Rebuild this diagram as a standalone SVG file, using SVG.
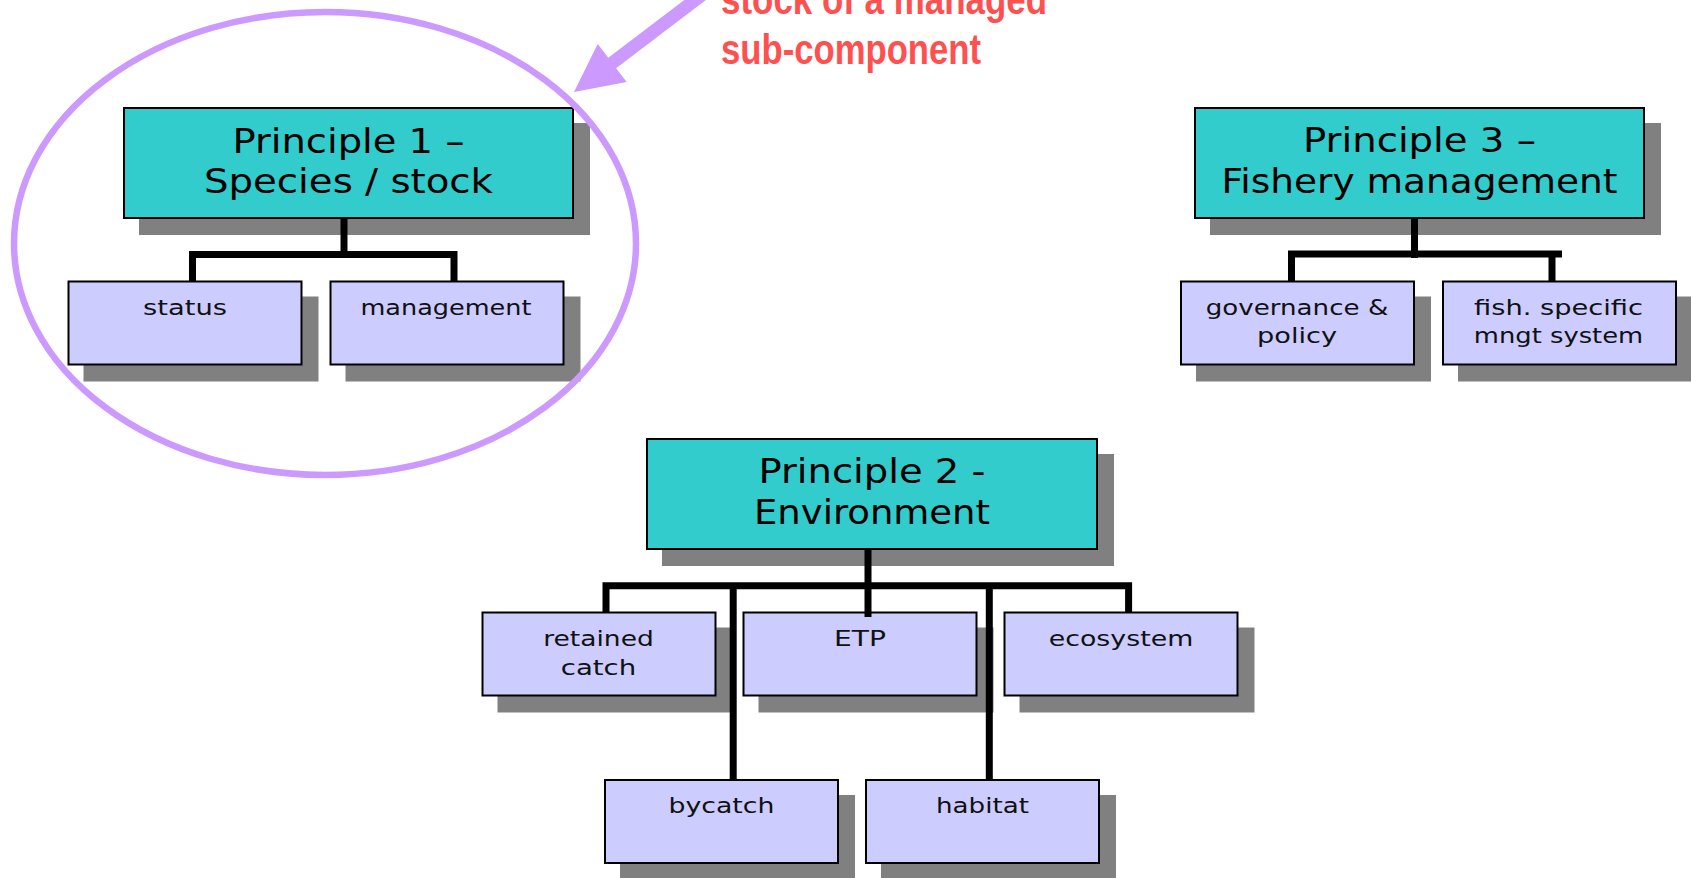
<svg xmlns="http://www.w3.org/2000/svg" width="1691" height="878" viewBox="0 0 1691 878">
<style>
.shadow{fill:#808080}
.big{fill:#33CCCC;stroke:#000;stroke-width:2}
.small{fill:#CCCCFF;stroke:#000;stroke-width:2}
.tb{font-family:"DejaVu Sans",Verdana,sans-serif;font-size:33px;fill:#000;text-anchor:middle}
.ts{font-family:"DejaVu Sans",Verdana,sans-serif;font-size:22px;fill:#111;text-anchor:middle}
.conn{fill:none;stroke:#000;stroke-width:7;stroke-linejoin:miter;stroke-linecap:butt}
.note{font-family:"Liberation Sans Narrow","Liberation Sans",Arial,sans-serif;font-weight:bold;font-size:42px;fill:#FF5050}
.mark{fill:#CC99FF}
</style>
<rect width="1691" height="878" fill="#fff"/>

<g id="p1">
<rect class="shadow" x="139" y="123" width="451" height="112"/>
<rect class="big" x="124" y="108" width="449" height="110"/>
<text class="tb" x="348.5" y="152.5" textLength="232" lengthAdjust="spacingAndGlyphs">Principle 1 –</text>
<text class="tb" x="348.5" y="193" textLength="289" lengthAdjust="spacingAndGlyphs">Species / stock</text>
</g>
<g id="status">
<rect class="shadow" x="83.5" y="296.5" width="235" height="85"/>
<rect class="small" x="68.5" y="281.5" width="233" height="83"/>
<text class="ts" x="185" y="315" textLength="84" lengthAdjust="spacingAndGlyphs">status</text>
</g>
<g id="management">
<rect class="shadow" x="345.5" y="296.5" width="235" height="85"/>
<rect class="small" x="330.5" y="281.5" width="233" height="83"/>
<text class="ts" x="446" y="315" textLength="171" lengthAdjust="spacingAndGlyphs">management</text>
</g>

<g id="p3">
<rect class="shadow" x="1210" y="123" width="451" height="112"/>
<rect class="big" x="1195" y="108" width="449" height="110"/>
<text class="tb" x="1419.5" y="152" textLength="233" lengthAdjust="spacingAndGlyphs">Principle 3 –</text>
<text class="tb" x="1419.5" y="193" textLength="396" lengthAdjust="spacingAndGlyphs">Fishery management</text>
</g>
<g id="governance">
<rect class="shadow" x="1196" y="296.5" width="235" height="85"/>
<rect class="small" x="1181" y="281.5" width="233" height="83"/>
<text class="ts" x="1297" y="314.5" textLength="182.5" lengthAdjust="spacingAndGlyphs">governance &amp;</text>
<text class="ts" x="1297" y="343" textLength="80" lengthAdjust="spacingAndGlyphs">policy</text>
</g>
<g id="fish-mngt">
<rect class="shadow" x="1458" y="296.5" width="235" height="85"/>
<rect class="small" x="1443" y="281.5" width="233" height="83"/>
<text class="ts" x="1558.5" y="314.5" textLength="169" lengthAdjust="spacingAndGlyphs">fish. specific</text>
<text class="ts" x="1558.5" y="343" textLength="169.5" lengthAdjust="spacingAndGlyphs">mngt system</text>
</g>

<g id="p2">
<rect class="shadow" x="662" y="454" width="452" height="112"/>
<rect class="big" x="647" y="439" width="450" height="110"/>
<text class="tb" x="872" y="483" textLength="227" lengthAdjust="spacingAndGlyphs">Principle 2 -</text>
<text class="tb" x="872" y="523.5" textLength="236" lengthAdjust="spacingAndGlyphs">Environment</text>
</g>
<g id="retained">
<rect class="shadow" x="497.5" y="627.5" width="235" height="85"/>
<rect class="small" x="482.5" y="612.5" width="233" height="83"/>
<text class="ts" x="598.5" y="645.5" textLength="110.5" lengthAdjust="spacingAndGlyphs">retained</text>
<text class="ts" x="598.5" y="674.5" textLength="75.5" lengthAdjust="spacingAndGlyphs">catch</text>
</g>
<g id="etp">
<rect class="shadow" x="758.5" y="627.5" width="235" height="85"/>
<rect class="small" x="743.5" y="612.5" width="233" height="83"/>
<text class="ts" x="860" y="645.5" textLength="52" lengthAdjust="spacingAndGlyphs">ETP</text>
</g>
<g id="ecosystem">
<rect class="shadow" x="1019.5" y="627.5" width="235" height="85"/>
<rect class="small" x="1004.5" y="612.5" width="233" height="83"/>
<text class="ts" x="1121" y="645.5" textLength="144.5" lengthAdjust="spacingAndGlyphs">ecosystem</text>
</g>
<g id="bycatch">
<rect class="shadow" x="620" y="795" width="235" height="85"/>
<rect class="small" x="605" y="780" width="233" height="83"/>
<text class="ts" x="721.5" y="812.5" textLength="106" lengthAdjust="spacingAndGlyphs">bycatch</text>
</g>
<g id="habitat">
<rect class="shadow" x="881" y="795" width="235" height="85"/>
<rect class="small" x="866" y="780" width="233" height="83"/>
<text class="ts" x="982.5" y="813" textLength="93" lengthAdjust="spacingAndGlyphs">habitat</text>
</g>

<g id="connectors" class="conn">
<path d="M344,218 V258"/>
<path d="M192.5,282 V254.5 H454 V282"/>
<path d="M1414.5,218 V258"/>
<path d="M1291.5,282 V254 H1552 V282 M1552,254 H1562"/>
<path d="M868,549 V617"/>
<path d="M606,612.5 V585.8 H1128.6 V612.5"/>
<path d="M733.2,585.8 V780"/>
<path d="M989.3,585.8 V780"/>
</g>

<g id="annotation">
<ellipse cx="325" cy="243.5" rx="311" ry="231.5" fill="none" stroke="#CC99FF" stroke-width="6.5"/>
<polygon class="mark" points="574,92 597.7,43.9 608.3,57.8 727.7,-33 735.5,-22.5 616.1,68.2 626.7,82.1"/>
<text class="note" x="721" y="13.5" textLength="326" lengthAdjust="spacingAndGlyphs">stock of a managed</text>
<text class="note" x="721" y="63.5" textLength="260" lengthAdjust="spacingAndGlyphs">sub-component</text>
</g>
</svg>
